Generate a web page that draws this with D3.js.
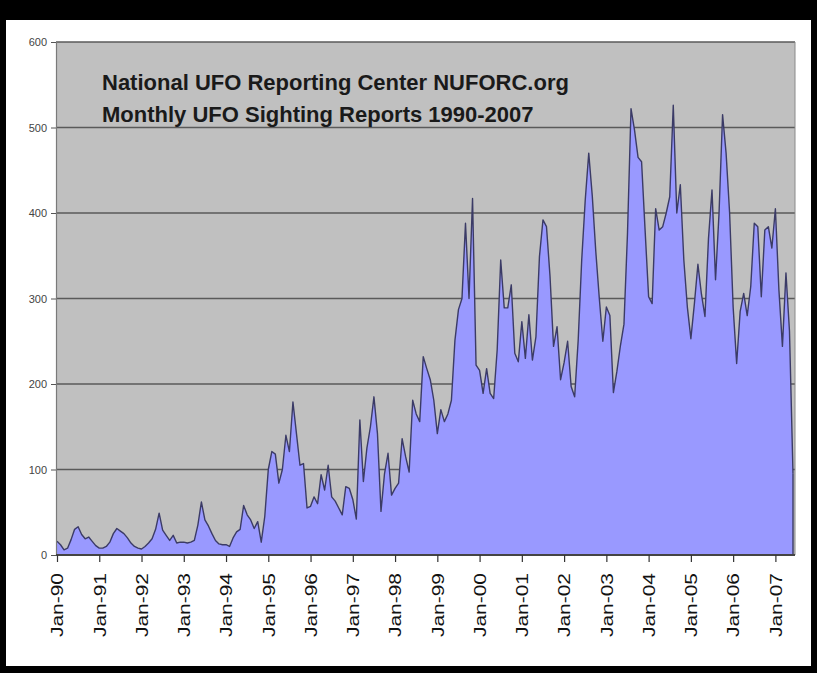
<!DOCTYPE html>
<html>
<head>
<meta charset="utf-8">
<script src="https://cdn.jsdelivr.net/npm/d3@7"></script>
<style>
  html, body { margin: 0; padding: 0; background: #fff; }
  svg { display: block; }
</style>
</head>
<body>
<svg id="chart" width="817" height="673"></svg>
<script>
// ---- Data (monthly NUFORC sighting reports, Jan 1990 .. Jun 2007) ----
const titleLines = [
  "National UFO Reporting Center NUFORC.org",
  "Monthly UFO Sighting Reports 1990-2007"
];
const yTicks = [0, 100, 200, 300, 400, 500, 600];
const xTickLabels = ["Jan-90","Jan-91","Jan-92","Jan-93","Jan-94","Jan-95","Jan-96","Jan-97","Jan-98",
                     "Jan-99","Jan-00","Jan-01","Jan-02","Jan-03","Jan-04","Jan-05","Jan-06","Jan-07"];
const monthlyReports = [
  16,12,6,8,18,30,33,24,19,21,16,11,          // 1990
  8,8,10,15,25,31,28,25,20,14,10,8,           // 1991
  7,10,14,19,30,49,29,23,17,23,14,15,         // 1992
  15,14,15,17,35,62,41,34,25,17,13,12,        // 1993
  12,10,20,27,30,58,47,41,31,39,15,45,        // 1994
  100,121,118,84,100,140,121,179,142,105,107,55, // 1995
  57,68,60,94,76,105,68,63,55,47,80,78,       // 1996
  65,42,158,86,125,150,185,142,51,95,119,70,  // 1997
  78,84,136,115,97,181,165,156,232,218,205,181, // 1998
  142,170,156,165,181,251,287,300,388,300,417,222, // 1999
  216,189,218,189,183,240,345,289,289,316,236,226, // 2000
  273,230,281,228,255,349,392,384,326,244,267,205, // 2001
  225,250,197,185,251,345,415,470,420,355,300,250, // 2002
  290,280,190,215,245,270,376,522,497,465,460,380, // 2003
  302,294,405,380,384,400,419,526,400,433,345,290, // 2004
  253,294,340,305,279,370,427,322,400,515,470,400, // 2005
  290,224,285,306,280,314,388,384,302,380,384,359, // 2006
  405,310,244,330,262,95                       // 2007 (Jan-Jun)
];

// ---- Layout ----
const svg = d3.select("#chart");
const plot = { left: 56, right: 795, top: 42, bottom: 555 };

// frame
svg.append("rect").attr("x",0).attr("y",0).attr("width",817).attr("height",673).attr("fill","#000");
svg.append("rect").attr("x",6).attr("y",20).attr("width",805).attr("height",646).attr("fill","#fff");

const x = d3.scaleLinear().domain([0, monthlyReports.length - 1]).range([57, 793]);
const y = d3.scaleLinear().domain([0, 600]).range([plot.bottom, plot.top]);

// plot background
svg.append("rect")
  .attr("x", plot.left).attr("y", plot.top)
  .attr("width", plot.right - plot.left).attr("height", plot.bottom - plot.top)
  .attr("fill", "#c0c0c0");

// gridlines
svg.append("g")
  .selectAll("line")
  .data(yTicks.filter(d => d > 0))
  .join("line")
  .attr("x1", plot.left).attr("x2", plot.right)
  .attr("y1", d => y(d)).attr("y2", d => y(d))
  .attr("stroke", "#5a5a5a").attr("stroke-width", 1.5);

// area
const area = d3.area()
  .x((d, i) => x(i))
  .y0(y(0))
  .y1(d => y(d));
svg.append("path")
  .datum(monthlyReports)
  .attr("d", area)
  .attr("fill", "#9999ff");

const line = d3.line()
  .x((d, i) => x(i))
  .y(d => y(d));
svg.append("path")
  .datum(monthlyReports)
  .attr("d", line)
  .attr("fill", "none")
  .attr("stroke", "#3b3b66")
  .attr("stroke-width", 1.4)
  .attr("stroke-linejoin", "round");
// right edge of area outline
const last = monthlyReports.length - 1;
svg.append("line")
  .attr("x1", x(last)).attr("x2", x(last))
  .attr("y1", y(monthlyReports[last])).attr("y2", y(0))
  .attr("stroke", "#3b3b66").attr("stroke-width", 1.4);

// plot border (right)
svg.append("line")
  .attr("x1", plot.right).attr("x2", plot.right)
  .attr("y1", plot.top).attr("y2", plot.bottom)
  .attr("stroke", "#8a8a8a").attr("stroke-width", 1);

// y axis
const yAxis = d3.axisLeft(y).tickValues(yTicks).tickSize(5).tickPadding(4).tickFormat(d3.format("d"));
const gy = svg.append("g").attr("transform", `translate(${plot.left},0)`).call(yAxis);
gy.select(".domain").attr("stroke", "#7a7a7a").attr("stroke-width", 1.2);
gy.selectAll(".tick line").attr("stroke", "#555");
gy.selectAll(".tick text")
  .attr("font-family", "'Liberation Sans Narrow', 'Liberation Sans', Arial, sans-serif")
  .attr("font-size", 11).attr("fill", "#444");

// x axis
const xTickIdx = xTickLabels.map((d, i) => i * 12);
const xAxis = d3.axisBottom(x).tickValues(xTickIdx).tickSize(7).tickFormat((d, i) => xTickLabels[i]);
const gx = svg.append("g").attr("transform", `translate(0,${plot.bottom})`).call(xAxis);
gx.select(".domain").attr("stroke", "#444").attr("stroke-width", 2).attr("d", `M${plot.left},0H${plot.right}`);
gx.selectAll(".tick line").attr("stroke", "#333").attr("stroke-width", 1.2);
gx.selectAll(".tick text")
  .attr("font-family", "'Liberation Sans', Arial, sans-serif")
  .attr("font-size", 16).attr("fill", "#111")
  .attr("text-anchor", "end")
  .attr("transform", "translate(0,18) rotate(-90)")
  .attr("x", 0).attr("y", 0).attr("dy", "0.36em")
  .attr("textLength", 64).attr("lengthAdjust", "spacingAndGlyphs");

// title
svg.append("g")
  .selectAll("text")
  .data(titleLines)
  .join("text")
  .attr("x", 102)
  .attr("y", (d, i) => 90 + i * 32)
  .attr("font-family", "'Liberation Sans', Arial, sans-serif")
  .attr("font-weight", "bold")
  .attr("font-size", 22)
  .attr("fill", "#1a1a1a")
  .text(d => d);
</script>
</body>
</html>
